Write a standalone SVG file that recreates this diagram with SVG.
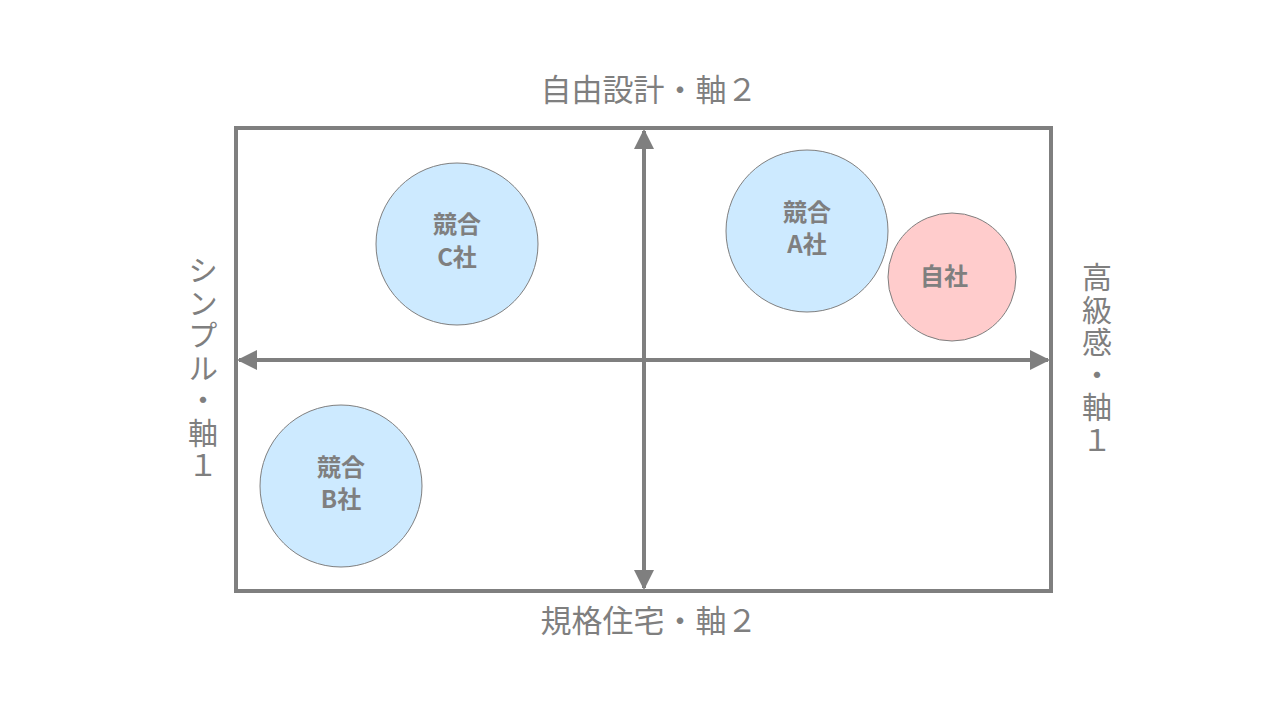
<svg xmlns="http://www.w3.org/2000/svg" width="1280" height="720" viewBox="0 0 1280 720">
<style>
.ax{font-family:"Noto Sans CJK JP","Noto Sans",sans-serif;font-size:31px;fill:#7f7f7f}
.vt{font-family:"Noto Sans CJK JP","Noto Sans",sans-serif;font-size:30px;fill:#7f7f7f;writing-mode:vertical-rl;text-orientation:upright;letter-spacing:2.5px}
.lb{font-family:"Noto Sans CJK JP","Noto Sans",sans-serif;font-size:24px;font-weight:bold;fill:#7f7f7f;text-anchor:middle}
.comp{fill:#cdeaff;stroke:#7f7f7f;stroke-width:1}
.own{fill:#ffcccc;stroke:#7f7f7f;stroke-width:1}
.line{stroke:#7f7f7f;stroke-width:4;fill:none}
</style>
<defs>
<marker id="ah" viewBox="0 0 10 10" refX="9" refY="5" markerWidth="5" markerHeight="5" orient="auto-start-reverse" markerUnits="strokeWidth">
<path d="M0,0 L10,5 L0,10 z" fill="#7f7f7f"/>
</marker>
</defs>
<rect x="0" y="0" width="1280" height="720" fill="#ffffff"/>
<g id="frame">
<rect class="line" x="236" y="128" width="815" height="463"/>
</g>
<g id="connectors">
<line class="line" x1="644" y1="131" x2="644" y2="588" marker-start="url(#ah)" marker-end="url(#ah)"/>
<line class="line" x1="239" y1="360" x2="1048" y2="360" marker-start="url(#ah)" marker-end="url(#ah)"/>
</g>
<g id="label-top"><text class="ax" x="649" y="101" text-anchor="middle">自由設計・軸２</text></g>
<g id="label-bottom"><text class="ax" x="649" y="632" text-anchor="middle">規格住宅・軸２</text></g>
<g id="label-left">
<text class="vt" x="203" y="255">シンプル・軸１</text>
</g>
<g id="label-right">
<text class="vt" x="1097" y="262">高級感・軸１</text>
</g>
<g id="node-c">
<circle class="comp" cx="457" cy="244" r="81"/>
<text class="lb" x="457" y="233">競合</text>
<text class="lb" x="457" y="266">C社</text>
</g>
<g id="node-a">
<circle class="comp" cx="807" cy="231" r="81"/>
<text class="lb" x="807" y="221">競合</text>
<text class="lb" x="807" y="253">A社</text>
</g>
<g id="node-self">
<circle class="own" cx="952" cy="277" r="64"/>
<text class="lb" x="944" y="285">自社</text>
</g>
<g id="node-b">
<circle class="comp" cx="341" cy="486" r="81"/>
<text class="lb" x="341" y="476">競合</text>
<text class="lb" x="341" y="508">B社</text>
</g>
</svg>
